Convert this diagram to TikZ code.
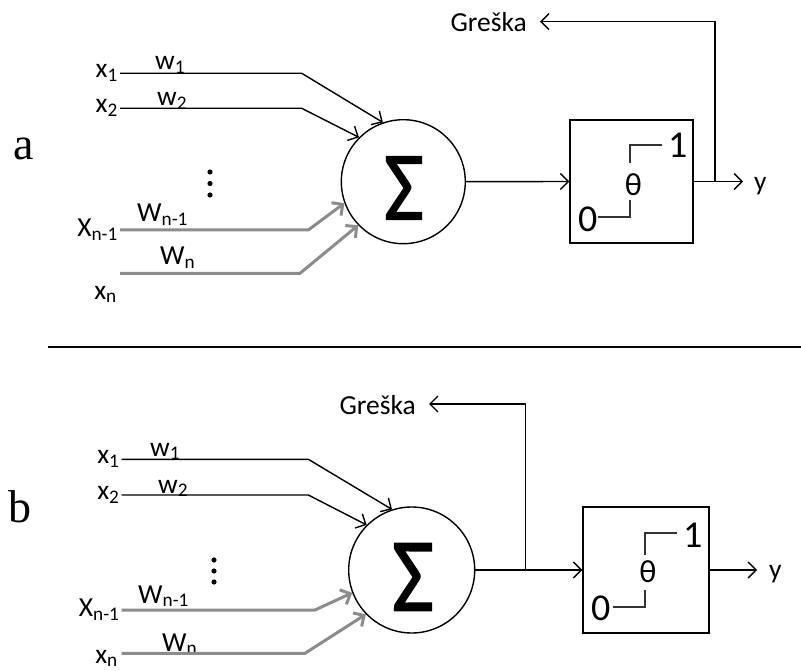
\documentclass[tikz,border=0pt]{standalone}
\usepackage{fontspec}
\setmainfont{Carlito}
\newfontfamily\panelfont{Liberation Serif}
\newfontfamily\sigfont[FakeBold=1.5]{Carlito}
\usetikzlibrary{arrows.meta}

\begin{document}
\begin{tikzpicture}[x=1pt, y=-1pt,
  >={Straight Barb[length=8pt,width=16pt]},
  every node/.style={font=\fontsize{27.5}{30}\selectfont, inner sep=1pt},
  wire/.style={line width=1.4pt},
  greywire/.style={line width=3pt, draw=black!45},
  lbl/.style={anchor=east, inner sep=2pt},
  wlbl/.style={anchor=base west, inner sep=0pt},
  sumnode/.style={circle, draw, line width=1.4pt, inner sep=0pt},
  stepbox/.style={draw, line width=1.4pt, inner sep=0pt},
  stepline/.style={line width=2.2pt, draw=black!80},
  glyph/.style={font=\fontsize{38}{40}\selectfont, inner sep=0pt, anchor=base west},
  thetalbl/.style={font=\fontsize{32}{34}\selectfont, inner sep=0pt},
  panel/.style={font=\panelfont\fontsize{46}{50}\selectfont, anchor=base west, inner sep=0pt}
]
\useasboundingbox (0,0) rectangle (801,671);

\node[panel] (pa) at (13,160) {a};
\node[sumnode, minimum size=124] (sumA) at (403.3,181.7) {};
\node[inner sep=0pt] (sigA) at (404,188) {\resizebox{40pt}{63pt}{\sigfont Σ}};
\node[stepbox, minimum width=123, minimum height=123] (stepA) at (631.5,181.5) {};
\draw[stepline] (598,217.3) -| (630,200);
\draw[stepline] (630,163) |- (661.7,145);
\node[glyph] (zeroA) at (578,232) {0};
\node[glyph] (oneA) at (668,158) {1};
\node[thetalbl] (thetaA) at (633.5,185) {θ};
\node[anchor=west, inner xsep=11pt, inner ysep=0pt] (yA) at (743,186) {y};
\node[anchor=base east, inner xsep=13pt, inner ysep=0pt] (gA) at (540,31.7) {Greška};
\coordinate (jA) at (715,181.7);
\coordinate (fbA) at (715,21.7);
\draw[wire,->] (sumA.east) -- (stepA.west);
\draw[wire,->] (stepA.east) -- (stepA.east -| yA.west);
\draw[wire,->] (jA) -- (fbA) -- (fbA -| gA.east);

\node[lbl] (x1A) at (120,73.3) {x\textsubscript{1}};
\node[lbl] (x2A) at (120,108.3) {x\textsubscript{2}};
\node[lbl] (xn1A) at (120,230) {X\textsubscript{n-1}};
\node[anchor=base east, inner sep=0pt] (xnlA) at (117,299) {x\textsubscript{n}};
\coordinate (xnA) at (120,273.3);
\node[wlbl] (w1A) at (155,70) {w\textsubscript{1}};
\node[wlbl] (w2A) at (157,106) {w\textsubscript{2}};
\node[wlbl] (wn1A) at (137,222) {W\textsubscript{n-1}};
\node[wlbl] (wnA) at (160,265) {W\textsubscript{n}};
\draw[wire,->] (x1A) -- (301.7,73.3) -- (sumA.109);
\draw[wire,->] (x2A) -- (301.7,108.3) -- (sumA.135);
\draw[greywire,->] (xn1A) -- (308.3,230) -- (sumA.200);
\draw[greywire,->] (xnA) -- (300,273.3) -- (sumA.224);
\foreach \dy in {172,183.5,195}
  \fill (210,\dy) circle (2.6pt);

\draw[line width=1.8pt] (48,346.7) -- (801,346.7);

\node[panel] (pb) at (8,522) {b};
\node[sumnode, minimum size=126] (sumB) at (411.7,570) {};
\node[inner sep=0pt] (sigB) at (413,577) {\resizebox{42pt}{67pt}{\sigfont Σ}};
\node[stepbox, minimum width=126, minimum height=126] (stepB) at (646,570) {};
\draw[stepline] (613,606.7) -| (645,590);
\draw[stepline] (645,555) |- (676.7,533.3);
\node[glyph] (zeroB) at (591,620) {0};
\node[glyph] (oneB) at (683,547) {1};
\node[thetalbl] (thetaB) at (648,572) {θ};
\node[anchor=west, inner xsep=12pt, inner ysep=0pt] (yB) at (757,574) {y};
\node[anchor=base east, inner xsep=13pt, inner ysep=0pt] (gB) at (429,414) {Greška};
\coordinate (jB) at (525.7,570);
\coordinate (fbB) at (525.7,404);
\draw[wire,->] (sumB.east) -- (stepB.west);
\draw[wire,->] (stepB.east) -- (stepB.east -| yB.west);
\draw[wire,->] (jB) -- (fbB) -- (fbB -| gB.east);

\node[lbl] (x1B) at (121.7,459.3) {x\textsubscript{1}};
\node[lbl] (x2B) at (121.7,495) {x\textsubscript{2}};
\node[lbl] (xn1B) at (121.7,610) {X\textsubscript{n-1}};
\node[anchor=base east, inner sep=0pt] (xnlB) at (118,663) {x\textsubscript{n}};
\coordinate (xnB) at (121.7,653.3);
\node[wlbl] (w1B) at (150,456) {w\textsubscript{1}};
\node[wlbl] (w2B) at (158,493) {w\textsubscript{2}};
\node[wlbl] (wn1B) at (138,603) {W\textsubscript{n-1}};
\node[wlbl] (wnB) at (162,651) {W\textsubscript{n}};
\draw[wire,->] (x1B) -- (308.3,459.3) -- (sumB.108);
\draw[wire,->] (x2B) -- (308.3,495) -- (sumB.135);
\draw[greywire,->] (xn1B) -- (315,610) -- (sumB.201);
\draw[greywire,->] (xnB) -- (305,653.3) -- (sumB.224);
\foreach \dy in {560,571,582}
  \fill (214,\dy) circle (2.6pt);
\end{tikzpicture}
\end{document}
